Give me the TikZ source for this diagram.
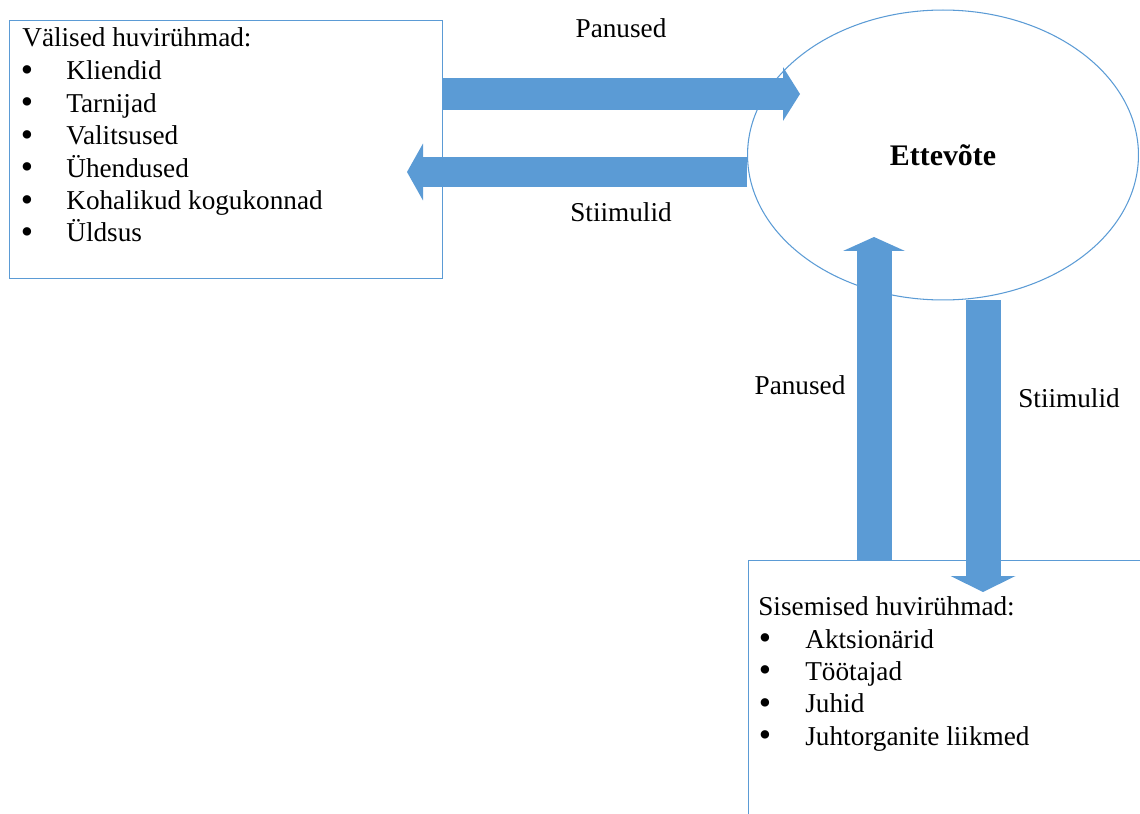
\documentclass[tikz,border=0pt]{standalone}
\usepackage{fontspec}
\setmainfont{Liberation Serif}
\usetikzlibrary{arrows.meta}
\usetikzlibrary{shapes.geometric}
\usetikzlibrary{positioning}
\definecolor{flowblue}{HTML}{5B9BD5}
\tikzset{
 grp/.style={draw=flowblue, line width=0.6pt, anchor=north west, inner sep=0pt},
 item/.style={anchor=base west, inner sep=0pt, font=\fontsize{15.5}{18}\selectfont},
 dot/.style={anchor=base, inner sep=0pt, font=\fontsize{20}{20}\selectfont},
 lbl/.style={anchor=base, inner sep=0pt, font=\fontsize{15.5}{18}\selectfont},
 flow/.style n args={3}{draw=flowblue, line width=#1, -{Triangle[width=#2,length=#3,line width=0pt]}},
}

\begin{document}
\begin{tikzpicture}[x=0.02cm,y=-0.02cm]
\useasboundingbox (0,0) rectangle (1140,814);
\begin{scope}
\clip (0,0) rectangle (1140,814);
\node[grp, minimum width=8.66cm, minimum height=5.16cm] (ext) at (9,20) {};
\node[grp, minimum width=8.4cm, minimum height=5.6cm] (int) at (748,560) {};
\end{scope}
\node[draw=flowblue, line width=0.6pt, ellipse, minimum width=7.82cm, minimum height=5.8cm, inner sep=0pt, font=\bfseries\fontsize{17}{18}\selectfont] (firm) at (943,155) {Ettevõte};

% flows between the firm and the groups
\coordinate (inTip) at (800,94);
\coordinate (outTip) at (407,172);
\coordinate (upTip) at (874,237);
\coordinate (downTip) at (983,592);
\draw[flow={0.64cm}{1.08cm}{0.34cm}] (ext.east |- inTip) -- (inTip);
\draw[flow={0.6cm}{1.14cm}{0.32cm}] (firm.west |- outTip) -- (outTip);
\draw[flow={0.7cm}{1.24cm}{0.28cm}] (int.north -| upTip) -- (upTip);
\draw[flow={0.7cm}{1.3cm}{0.32cm}] (firm.south -| downTip) -- (downTip);

\node[lbl] (inLbl) at (621,38) {Panused};
\node[lbl] (outLbl) at (621,222) {Stiimulid};
\node[lbl] (upLbl) at (800,395) {Panused};
\node[lbl] (downLbl) at (1069,407) {Stiimulid};

% external groups
\node[item] (extHead) at (22,47) {Välised huvirühmad:};
\foreach \t [count=\i] in {Kliendid, Tarnijad, Valitsused, Ühendused, Kohalikud kogukonnad, Üldsus} {
 \node[dot] (extDot\i) at (27,{81.5+32.4*(\i-1)}) {•};
 \node[item] (extItem\i) at (66,{80+32.4*(\i-1)}) {\t};
}

% internal groups
\node[item] (intHead) at (758,615) {Sisemised huvirühmad:};
\foreach \t [count=\i] in {Aktsionärid, Töötajad, Juhid, Juhtorganite liikmed} {
 \node[dot] (intDot\i) at (765,{649.5+32.4*(\i-1)}) {•};
 \node[item] (intItem\i) at (805,{648+32.4*(\i-1)}) {\t};
}
\end{tikzpicture}
\end{document}
